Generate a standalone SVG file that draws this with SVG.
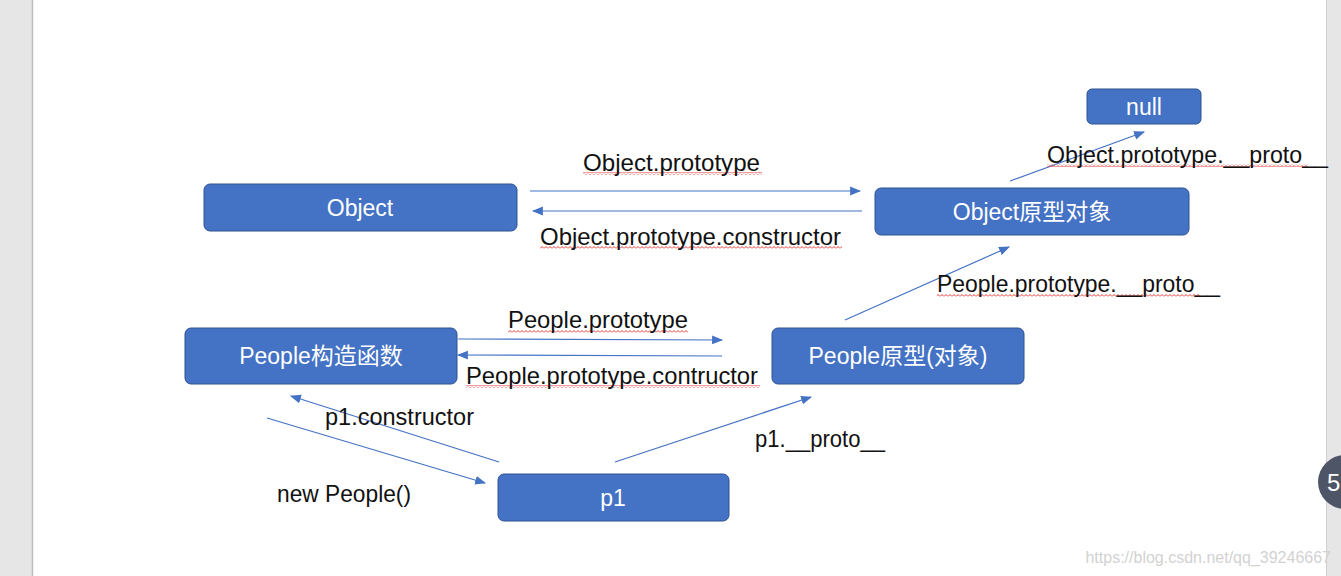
<svg xmlns="http://www.w3.org/2000/svg" width="1341" height="576" viewBox="0 0 1341 576">
<defs>
<style>
.node{fill:#4472C4;stroke:#2F528F;stroke-width:1}
.nt{font-family:"Liberation Sans","Noto Sans CJK SC",sans-serif;font-size:23px;fill:#FFFFFF;text-anchor:middle;dominant-baseline:central}
.lbl{font-family:"Liberation Sans","Noto Sans CJK SC",sans-serif;font-size:24px;fill:#111111}
.edge{stroke:#4472C4;stroke-width:1.2;fill:none;marker-end:url(#arr)}
.sq{fill:url(#wave)}
</style>
<marker id="arr" viewBox="0 0 10 10" refX="9" refY="5" markerWidth="11" markerHeight="11" markerUnits="userSpaceOnUse" orient="auto">
<path d="M0,1 L10,5 L0,9 z" fill="#4472C4"/>
</marker>
<pattern id="wave" width="4" height="3" patternUnits="userSpaceOnUse">
<path d="M0,2.5 L2,0.5 L4,2.5" fill="none" stroke="#E53935" stroke-width="1"/>
</pattern>
</defs>
<rect x="0" y="0" width="1341" height="576" fill="#E6E6E6"/>
<rect x="33" y="0" width="1293" height="576" fill="#FFFFFF"/>
<line x1="32.5" y1="0" x2="32.5" y2="576" stroke="#BDBDBD" stroke-width="1.5"/>
<line x1="1326.5" y1="0" x2="1326.5" y2="576" stroke="#CFCFCF" stroke-width="1"/>

<g id="connectors">
<line class="edge" x1="530" y1="191" x2="860" y2="191"/>
<line class="edge" x1="862" y1="211" x2="533" y2="211"/>
<line class="edge" x1="1010" y1="181" x2="1144" y2="132"/>
<line class="edge" x1="845" y1="320" x2="1009" y2="247"/>
<line class="edge" x1="458" y1="339" x2="722" y2="340"/>
<line class="edge" x1="722" y1="356" x2="458" y2="355"/>
<line class="edge" x1="499" y1="462" x2="291" y2="396"/>
<line class="edge" x1="267" y1="418" x2="485" y2="483"/>
<line class="edge" x1="615" y1="462" x2="811" y2="397"/>
</g>

<g id="labels">
<rect class="sq" x="583" y="172" width="179" height="3"/>
<text class="lbl" x="583" y="171" textLength="177" lengthAdjust="spacingAndGlyphs">Object.prototype</text>
<rect class="sq" x="540" y="246" width="302" height="3"/>
<text class="lbl" x="540" y="245" textLength="301" lengthAdjust="spacingAndGlyphs">Object.prototype.constructor</text>
<rect class="sq" x="1047" y="164" width="261" height="3"/>
<text class="lbl" x="1047" y="163" textLength="281" lengthAdjust="spacingAndGlyphs">Object.prototype.__proto__</text>
<rect class="sq" x="937" y="294" width="263" height="3"/>
<text class="lbl" x="937" y="292" textLength="283" lengthAdjust="spacingAndGlyphs">People.prototype.__proto__</text>
<rect class="sq" x="508" y="330" width="180" height="3"/>
<text class="lbl" x="508" y="328" textLength="180" lengthAdjust="spacingAndGlyphs">People.prototype</text>
<rect class="sq" x="466" y="385" width="294" height="3"/>
<text class="lbl" x="466" y="384" textLength="292" lengthAdjust="spacingAndGlyphs">People.prototype.contructor</text>
<text class="lbl" x="325" y="425" textLength="149" lengthAdjust="spacingAndGlyphs">p1.constructor</text>
<text class="lbl" x="277" y="502" textLength="134" lengthAdjust="spacingAndGlyphs">new People()</text>
<text class="lbl" x="755" y="447" textLength="130" lengthAdjust="spacingAndGlyphs">p1.__proto__</text>
</g>

<g id="node-object">
<rect class="node" x="204" y="184" width="313" height="47" rx="6"/>
<text class="nt" x="360" y="208">Object</text>
</g>
<g id="node-object-proto">
<rect class="node" x="875" y="188" width="314" height="47" rx="6"/>
<text class="nt" x="1032" y="212">Object原型对象</text>
</g>
<g id="node-null">
<rect class="node" x="1087" y="89" width="114" height="35" rx="5"/>
<text class="nt" x="1144" y="107">null</text>
</g>
<g id="node-people">
<rect class="node" x="185" y="328" width="272" height="56" rx="6"/>
<text class="nt" x="321" y="356">People构造函数</text>
</g>
<g id="node-people-proto">
<rect class="node" x="772" y="328" width="252" height="56" rx="6"/>
<text class="nt" x="898" y="356">People原型(对象)</text>
</g>
<g id="node-p1">
<rect class="node" x="498" y="474" width="231" height="47" rx="6"/>
<text class="nt" x="613" y="498">p1</text>
</g>

<g id="overlay">
<circle cx="1345" cy="482" r="27" fill="#4E5566"/>
<text x="1327" y="491" font-family="Liberation Sans, sans-serif" font-size="24" fill="#FFFFFF">5</text>
<text x="1331" y="563" text-anchor="end" font-family="Liberation Sans, sans-serif" font-size="16" fill="#D2D2D2">https://blog.csdn.net/qq_39246667</text>
</g>
</svg>
